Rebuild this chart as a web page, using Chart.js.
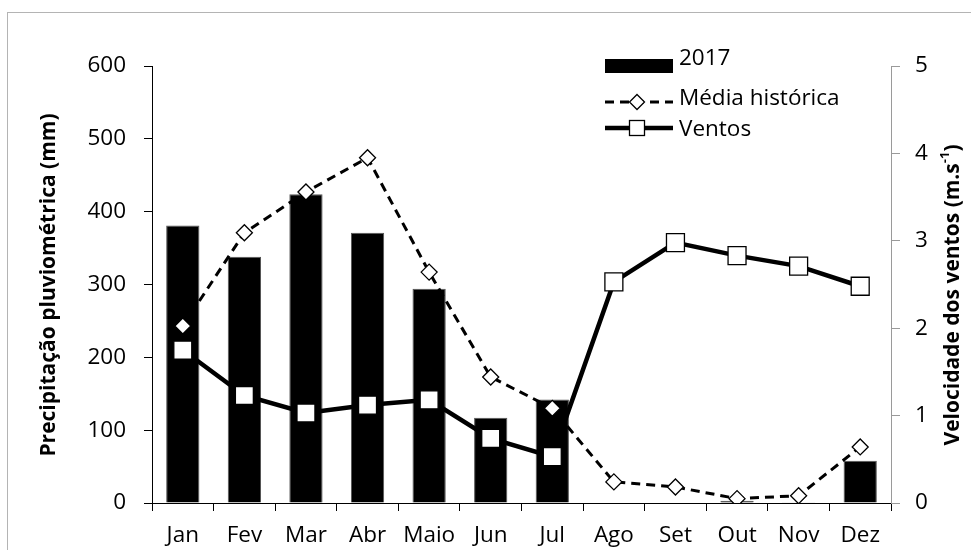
<!DOCTYPE html>
<html>
<head>
<meta charset="utf-8">
<script src="https://cdn.jsdelivr.net/npm/chart.js@4.4.1/dist/chart.umd.min.js"></script>
<style>
  html, body { margin: 0; padding: 0; background: #fff; overflow: hidden; }
  #wrap { position: relative; width: 971px; height: 550px; }
  #frame { position: absolute; left: 7px; top: 12px; width: 1000px; height: 600px; border: 1px solid #b4b4b4; box-sizing: border-box; }
  canvas { position: absolute; left: 0; top: 0; }
</style>
</head>
<body>
<div id="wrap">
  <div id="frame"></div>
  <canvas id="chart" width="971" height="550"></canvas>
</div>
<script>
const months = ['Jan', 'Fev', 'Mar', 'Abr', 'Maio', 'Jun', 'Jul', 'Ago', 'Set', 'Out', 'Nov', 'Dez'];
const chuva2017 = [381, 338, 424, 371, 294, 117, 142, 0, 0, 3, 1, 58];
const mediaHistorica = [243, 371, 427, 474, 317, 173, 130, 29, 22, 6, 10, 77];
const ventos = [1.75, 1.23, 1.03, 1.12, 1.18, 0.74, 0.53, 2.53, 2.98, 2.83, 2.71, 2.48];

const FONT = '"Open Sans"';
const TICK_SIZE = 22.5;
const TITLE_FONT = 'bold 21px "Open Sans"';
const SUP_FONT = 'bold 13px "Open Sans"';

// fixed box sizes so the plot sits where the reference has it
function fixWidth(w) { return function (scale) { scale.width = w; }; }

const titlesAndLegend = {
  id: 'titlesAndLegend',
  afterDraw(chart) {
    const ctx = chart.ctx;
    ctx.save();
    ctx.fillStyle = '#000';

    // left axis title
    ctx.font = TITLE_FONT;
    ctx.save();
    ctx.translate(49, 285);
    ctx.rotate(-Math.PI / 2);
    ctx.textAlign = 'center';
    ctx.textBaseline = 'middle';
    ctx.fillText('Precipitação pluviométrica (mm)', 0, 0);
    ctx.restore();

    // right axis title with superscript
    const main = 'Velocidade dos ventos (m.s';
    const sup = '-1';
    const close = ')';
    ctx.font = TITLE_FONT;
    const wMain = ctx.measureText(main).width;
    const wClose = ctx.measureText(close).width;
    ctx.font = SUP_FONT;
    const wSup = ctx.measureText(sup).width;
    const total = wMain + wSup + wClose;
    ctx.save();
    ctx.translate(953, 295);
    ctx.rotate(-Math.PI / 2);
    ctx.textAlign = 'left';
    ctx.textBaseline = 'middle';
    let x = -total / 2;
    ctx.font = TITLE_FONT;
    ctx.fillText(main, x, 0);
    x += wMain;
    ctx.font = SUP_FONT;
    ctx.fillText(sup, x, -8);
    x += wSup;
    ctx.font = TITLE_FONT;
    ctx.fillText(close, x, 0);
    ctx.restore();

    // legend
    ctx.font = TICK_SIZE + 'px ' + FONT;
    ctx.textAlign = 'left';
    ctx.textBaseline = 'alphabetic';
    ctx.fillRect(605, 59, 68, 14);
    ctx.fillText('2017', 679, 65);

    ctx.strokeStyle = '#000';
    ctx.lineWidth = 3;
    ctx.setLineDash([9, 6]);
    ctx.beginPath();
    ctx.moveTo(605, 102);
    ctx.lineTo(673, 102);
    ctx.stroke();
    ctx.setLineDash([]);
    ctx.fillStyle = '#fff';
    ctx.lineWidth = 1.3;
    ctx.beginPath();
    ctx.moveTo(637, 94.5);
    ctx.lineTo(644.5, 102);
    ctx.lineTo(637, 109.5);
    ctx.lineTo(629.5, 102);
    ctx.closePath();
    ctx.fill();
    ctx.stroke();
    ctx.fillStyle = '#000';
    ctx.fillText('Média histórica', 679, 105);

    ctx.lineWidth = 4.5;
    ctx.beginPath();
    ctx.moveTo(605, 128);
    ctx.lineTo(673, 128);
    ctx.stroke();
    ctx.fillStyle = '#fff';
    ctx.lineWidth = 1.3;
    ctx.fillRect(629.5, 120.5, 15, 15);
    ctx.strokeRect(629.5, 120.5, 15, 15);
    ctx.fillStyle = '#000';
    ctx.fillText('Ventos', 679, 136);
    ctx.restore();
  }
};

new Chart(document.getElementById('chart'), {
  type: 'bar',
  data: {
    labels: months,
    datasets: [
      {
        type: 'line',
        label: 'Ventos',
        data: ventos,
        yAxisID: 'y1',
        borderColor: '#000',
        borderWidth: 4.5,
        tension: 0,
        pointStyle: 'rect',
        pointRadius: 12.7,
        pointBackgroundColor: '#fff',
        pointBorderColor: '#000',
        pointBorderWidth: 1.3
      },
      {
        type: 'line',
        label: 'Média histórica',
        data: mediaHistorica,
        yAxisID: 'y',
        borderColor: '#000',
        borderWidth: 3,
        borderDash: [9, 6],
        tension: 0,
        pointStyle: 'rectRot',
        pointRadius: 8,
        pointBackgroundColor: '#fff',
        pointBorderColor: '#000',
        pointBorderWidth: 1.3
      },
      {
        label: '2017',
        data: chuva2017,
        yAxisID: 'y',
        backgroundColor: '#000',
        borderColor: '#555',
        borderWidth: 1,
        barPercentage: 0.54,
        categoryPercentage: 1
      }
    ]
  },
  options: {
    responsive: false,
    animation: false,
    layout: { padding: { top: 66, left: 0, right: 0, bottom: 0 } },
    plugins: {
      legend: { display: false },
      tooltip: { enabled: false }
    },
    scales: {
      x: {
        offset: true,
        afterFit(scale) { scale.height = 47; },
        grid: { display: true, drawOnChartArea: false, offset: true, tickLength: 8, color: '#000', lineWidth: 1 },
        border: { color: '#000', width: 1 },
        ticks: { color: '#000', font: { family: FONT, size: TICK_SIZE }, padding: 11, maxRotation: 0, autoSkip: false }
      },
      y: {
        position: 'left',
        min: 0,
        max: 600,
        afterFit: fixWidth(152),
        grid: { drawOnChartArea: false, tickLength: 8, color: '#000' },
        border: { color: '#000', width: 1 },
        ticks: { stepSize: 100, color: '#000', font: { family: FONT, size: TICK_SIZE }, padding: 18 }
      },
      y1: {
        position: 'right',
        min: 0,
        max: 5,
        afterFit: fixWidth(80),
        grid: { drawOnChartArea: false, tickLength: 9, color: '#9a9a9a' },
        border: { color: '#9a9a9a', width: 1 },
        ticks: { stepSize: 1, color: '#000', font: { family: FONT, size: TICK_SIZE }, padding: 15 }
      }
    }
  },
  plugins: [titlesAndLegend]
});
</script>
</body>
</html>
